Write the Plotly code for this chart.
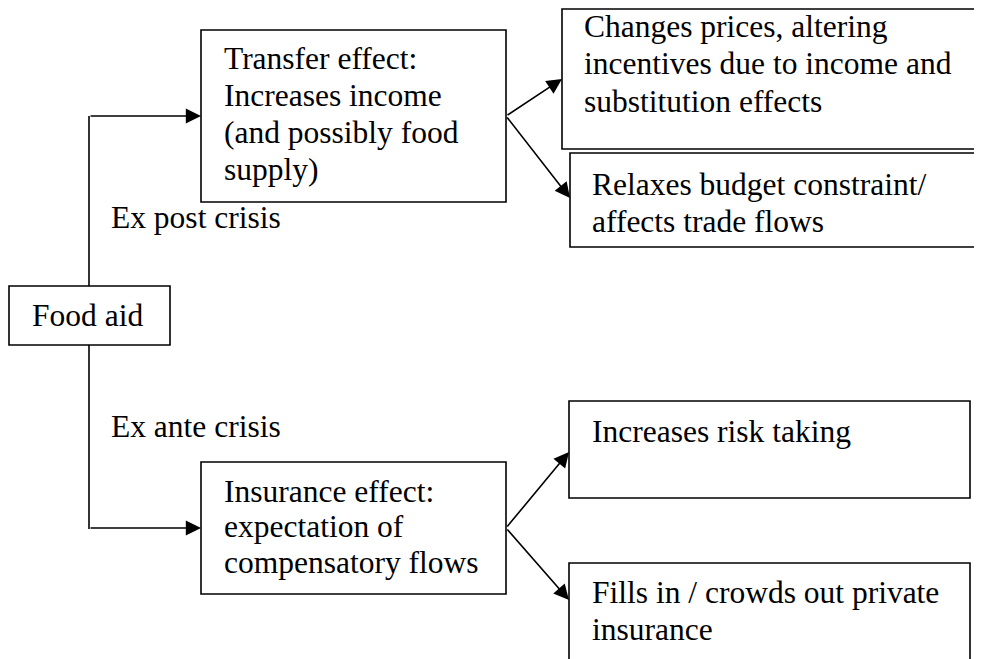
import plotly.graph_objects as go

# ---- text content ----
food_aid_lines = ["Food aid"]
transfer_lines = ["Transfer effect:", "Increases income", "(and possibly food", "supply)"]
changes_lines = ["Changes prices, altering", "incentives due to income and", "substitution effects"]
relaxes_lines = ["Relaxes budget constraint/", "affects trade flows"]
insurance_lines = ["Insurance effect:", "expectation of", "compensatory flows"]
risk_lines = ["Increases risk taking"]
fills_lines = ["Fills in / crowds out private", "insurance"]
branch_labels = ["Ex post crisis", "Ex ante crisis"]

PAGE_W, PAGE_H = 982, 659
PAGE_OFF = 8  # default body margin of the written html page
W, H = PAGE_W - PAGE_OFF, PAGE_H - PAGE_OFF
FONT = "Liberation Serif, Times New Roman, serif"
FS = 31.5
LW = 1.6

# ---- layout geometry (page pixels, y downward) ----
boxes = [
    # (x0, y0, x1, y1, lines, text_x, first_baseline, line_step)
    (9, 286, 170, 345, food_aid_lines, 30, 326, 37),
    (201, 30, 506, 202, transfer_lines, 222, 69, 37),
    (562, 9, 1000, 149, changes_lines, 582, 37, 37.5),
    (570, 153, 1000, 247, relaxes_lines, 590, 195, 37),
    (201, 462, 506, 594, insurance_lines, 222, 502, 35.5),
    (569, 401, 970, 498, risk_lines, 590, 442, 37),
    (569, 563, 970, 690, fills_lines, 590, 603, 37),
]
label_pos = [(109, 228), (109, 437)]

fig = go.Figure()
shapes = []
annotations = []
BASE_OFF = 0.3375 * FS

for (x0, y0, x1, y1, lines, tx, b0, step) in boxes:
    shapes.append(dict(type="rect", xref="x", yref="y", x0=x0, y0=y0, x1=x1, y1=y1,
                       line=dict(color="black", width=LW), fillcolor="white", layer="above"))
    for i, t in enumerate(lines):
        annotations.append(dict(x=tx, y=b0 + i * step - BASE_OFF, xref="x", yref="y",
                                text=t, showarrow=False, xanchor="left", yanchor="middle",
                                font=dict(family=FONT, size=FS, color="black")))

for t, (lx, lb) in zip(branch_labels, label_pos):
    annotations.append(dict(x=lx, y=lb - BASE_OFF, xref="x", yref="y", text=t,
                            showarrow=False, xanchor="left", yanchor="middle",
                            font=dict(family=FONT, size=FS, color="black")))

# vertical connector lines from Food aid box
shapes.append(dict(type="line", xref="x", yref="y", x0=89, y0=286, x1=89, y1=116,
                   line=dict(color="black", width=LW)))
shapes.append(dict(type="line", xref="x", yref="y", x0=89, y0=345, x1=89, y1=529,
                   line=dict(color="black", width=LW)))

# arrows: (start_x, start_y, tip_x, tip_y)
arrows = [
    (89, 116, 201, 116),
    (89, 528, 201, 528),
    (506, 116, 562, 79),
    (506, 116, 570, 198),
    (506, 528, 569, 452),
    (506, 528, 569, 600),
]
for sx, sy, ex, ey in arrows:
    annotations.append(dict(x=ex, y=ey, ax=sx, ay=sy, xref="x", yref="y", axref="x", ayref="y",
                            text="", showarrow=True, arrowhead=2, arrowsize=1.9,
                            arrowwidth=LW, arrowcolor="black", standoff=0))

fig.update_layout(
    width=W, height=H,
    margin=dict(l=0, r=0, t=0, b=0),
    paper_bgcolor="white", plot_bgcolor="white",
    xaxis=dict(range=[PAGE_OFF, PAGE_W], visible=False, fixedrange=True),
    yaxis=dict(range=[PAGE_H, PAGE_OFF], visible=False, fixedrange=True),
    shapes=shapes, annotations=annotations, showlegend=False,
)

fig.write_html("out.html")
